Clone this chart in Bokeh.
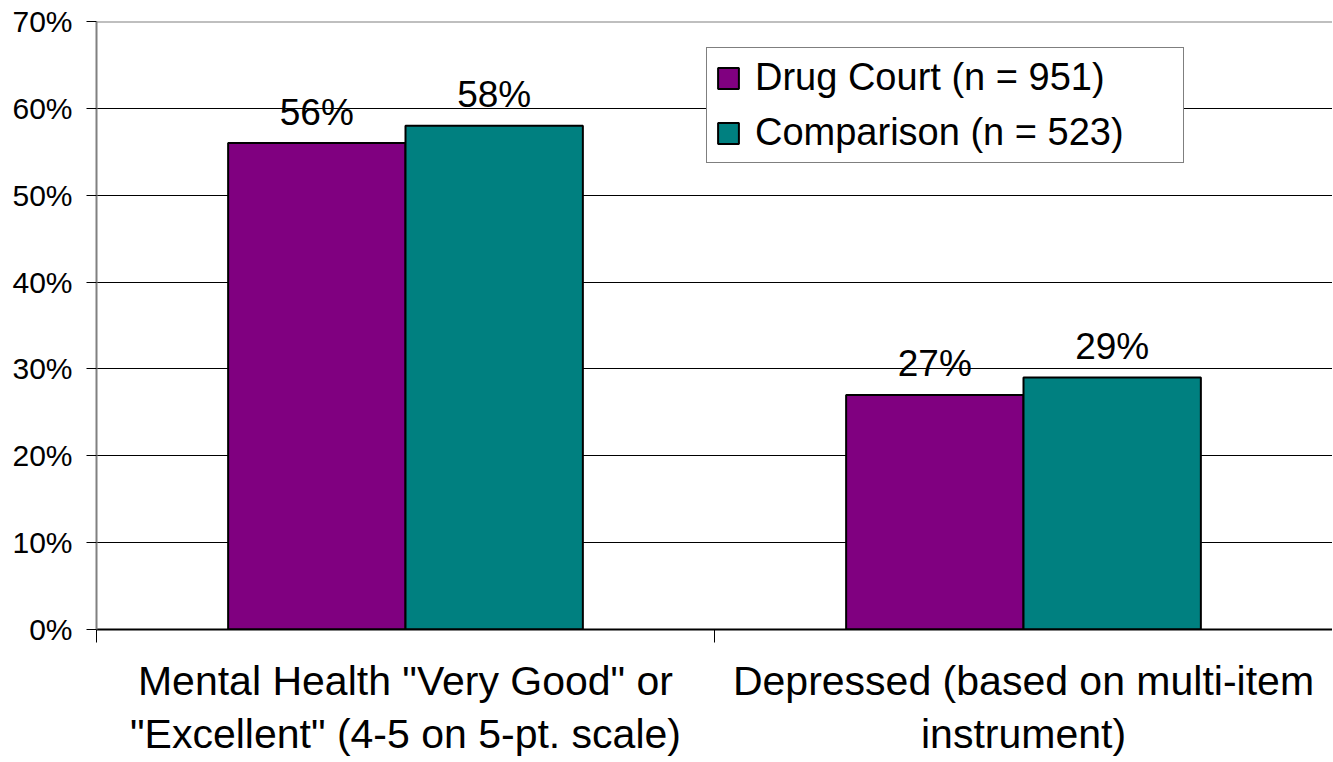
from bokeh.plotting import figure
from bokeh.models import (ColumnDataSource, Range1d, FixedTicker, NumeralTickFormatter,
                          Legend, LegendItem, Span)
from bokeh.core.properties import value
from bokeh.embed import file_html
from bokeh.resources import INLINE

categories = ['Mental Health "Very Good" or\n"Excellent" (4-5 on 5-pt. scale)',
              'Depressed (based on multi-item\ninstrument)']
drug_court = [0.56, 0.27]
comparison = [0.58, 0.29]
series_names = ["Drug Court (n = 951)", "Comparison (n = 523)"]
colors = ["#800080", "#008080"]
y_ticks = [0.0, 0.1, 0.2, 0.3, 0.4, 0.5, 0.6, 0.7]

FONT = "Liberation Sans"
BAR_W = 0.287
OFF = BAR_W / 2

centers = [i + 0.5 for i in range(len(categories))]
bounds = [float(i) for i in range(len(categories) + 1)]

src_dc = ColumnDataSource(dict(x=[c - OFF for c in centers], top=drug_court,
                               lab=[f"{round(v*100)}%" for v in drug_court]))
src_cp = ColumnDataSource(dict(x=[c + OFF for c in centers], top=comparison,
                               lab=[f"{round(v*100)}%" for v in comparison]))

p = figure(width=1332, height=760, output_backend="svg", toolbar_location=None,
           x_range=Range1d(0, len(categories)), y_range=Range1d(0, 0.7),
           min_border_left=96, min_border_right=0, min_border_top=21, min_border_bottom=130)
p.outline_line_color = None
p.background_fill_color = "white"
p.border_fill_color = "white"

r1 = p.vbar(x="x", top="top", width=BAR_W, source=src_dc, fill_color=colors[0],
            line_color="black", line_width=2)
r2 = p.vbar(x="x", top="top", width=BAR_W, source=src_cp, fill_color=colors[1],
            line_color="black", line_width=2)

for src in (src_dc, src_cp):
    p.text(x="x", y="top", text="lab", source=src, text_align="center",
           text_baseline="alphabetic", y_offset=-31, text_font=value(FONT),
           text_font_size="37px", text_color="black")

# grid
p.xgrid.visible = False
p.ygrid.ticker = FixedTicker(ticks=[0.1, 0.2, 0.3, 0.4, 0.5, 0.6])
p.ygrid.grid_line_color = "black"
p.ygrid.grid_line_width = 1
p.add_layout(Span(location=0.7, dimension="width", line_color="#808080", line_width=2))

# y axis
p.yaxis.ticker = FixedTicker(ticks=y_ticks)
p.yaxis.formatter = NumeralTickFormatter(format="0%")
p.yaxis.axis_line_color = "#808080"
p.yaxis.axis_line_width = 2
p.yaxis.major_tick_line_color = "black"
p.yaxis.major_tick_out = 10
p.yaxis.major_tick_in = 0
p.yaxis.minor_tick_line_color = None
p.yaxis.major_label_text_font = FONT
p.yaxis.major_label_text_font_size = "30px"
p.yaxis.major_label_text_color = "black"
p.yaxis.major_label_standoff = 14

# x axis
p.xaxis.ticker = FixedTicker(ticks=centers, minor_ticks=bounds)
p.xaxis.major_label_overrides = {c: lab for c, lab in zip(centers, categories)}
p.xaxis.axis_line_color = "black"
p.xaxis.axis_line_width = 2
p.xaxis.major_tick_line_color = None
p.xaxis.minor_tick_line_color = "black"
p.xaxis.minor_tick_out = 13
p.xaxis.minor_tick_in = 0
p.xaxis.major_label_text_font = FONT
p.xaxis.major_label_text_font_size = "41px"
p.xaxis.major_label_text_color = "black"
p.xaxis.major_label_standoff = 15
p.xaxis.major_label_text_line_height = 1.17

legend = Legend(items=[LegendItem(label=series_names[0], renderers=[r1]),
                       LegendItem(label=series_names[1], renderers=[r2])],
                location=(610, 466))
legend.label_text_font = FONT
legend.label_text_font_size = "38px"
legend.label_text_color = "black"
legend.glyph_width = 26
legend.glyph_height = 26
legend.label_standoff = 14
legend.label_width = 420
legend.padding = 8
legend.spacing = 12
legend.margin = 0
legend.border_line_color = "black"
legend.border_line_width = 1
legend.background_fill_alpha = 1
p.add_layout(legend, "center")

open("out.html", "w").write(file_html(p, INLINE))
